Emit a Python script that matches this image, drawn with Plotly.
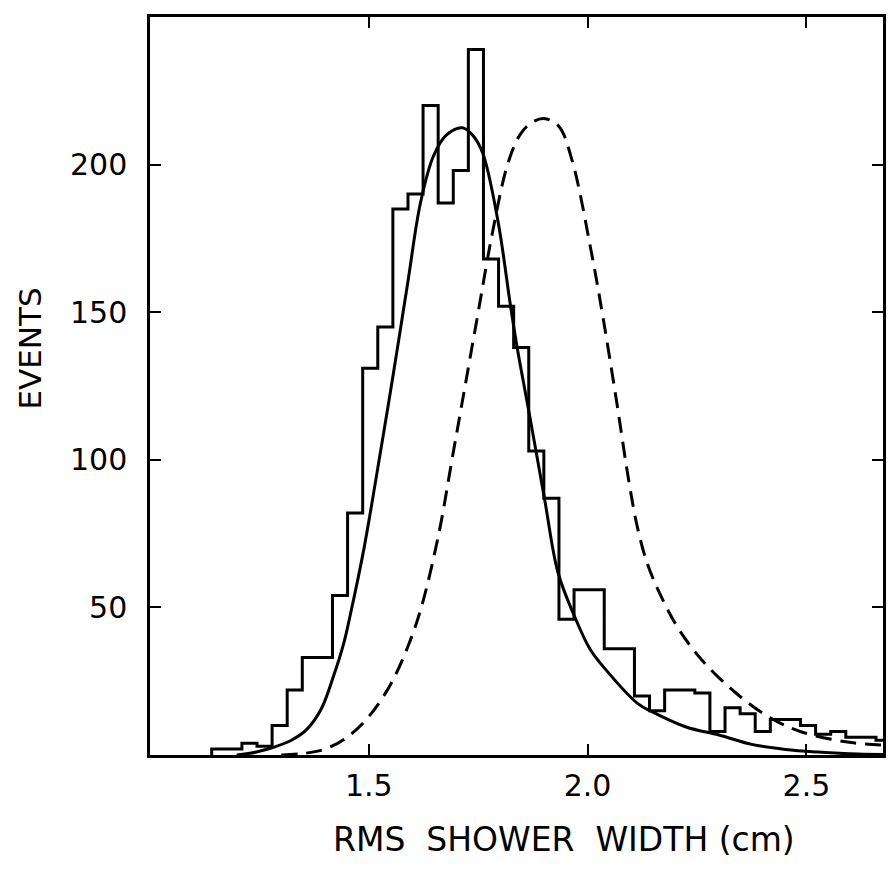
import plotly.graph_objects as go

# Histogram of measured RMS shower widths (uniform bins)
bin_start = 1.141
bin_width = 0.0345
counts = [2, 2, 4, 3, 10, 22, 33, 33, 54, 82, 131, 145, 185, 190, 220, 187,
          198, 239, 168, 152, 138, 103, 87, 46, 56, 56, 36, 36, 20, 15, 22,
          22, 21, 8, 16, 14, 8, 12, 12, 10, 7, 8, 6, 6, 5]

# Fitted curve for the data (solid)
fit_x = [1.198, 1.243, 1.284, 1.323, 1.357, 1.391, 1.420, 1.443, 1.457, 1.489,
         1.527, 1.557, 1.589, 1.618, 1.648, 1.677, 1.714, 1.737, 1.760, 1.795,
         1.823, 1.839, 1.868, 1.902, 1.932, 1.970, 2.005, 2.041, 2.114, 2.148,
         2.225, 2.300, 2.375, 2.452, 2.527, 2.618, 2.68]
fit_y = [0.0, 1.0, 2.7, 5.0, 8.5, 15.5, 27, 38, 47, 70,
         103, 130, 160, 187, 203, 210, 212.5, 210, 204, 181,
         153, 138, 114.6, 86.4, 62, 47, 36, 29, 17.5, 14.6,
         9.5, 6.8, 3.6, 1.9, 1.0, 0.3, 0.2]

# Reference curve (dashed)
ref_x = [1.30, 1.35, 1.400, 1.450, 1.500, 1.550, 1.590, 1.620, 1.660,
         1.690, 1.720, 1.750, 1.780, 1.817, 1.845, 1.870, 1.900, 1.934, 1.964,
         2.009, 2.036, 2.066, 2.095, 2.114, 2.136, 2.164, 2.205, 2.261, 2.339,
         2.414, 2.489, 2.602, 2.68]
ref_y = [0.0, 0.5, 2.0, 6.0, 13, 24, 37, 50, 75,
         100, 125, 150, 175, 200, 210, 214, 215.6, 213, 201.7,
         170, 147.5, 120, 92, 77, 65, 55, 43.4, 32.2, 21,
         12.9, 7.8, 4.2, 3.3]

edges = [bin_start + i * bin_width for i in range(len(counts) + 1)]
hist_x = [edges[0]] + edges
hist_y = [0] + counts + [counts[-1]]

ink = "#000000"
fig = go.Figure()
fig.add_trace(go.Scatter(x=hist_x, y=hist_y, mode="lines", line_shape="hv",
                         line=dict(color=ink, width=3), hoverinfo="skip"))
fig.add_trace(go.Scatter(x=fit_x, y=fit_y, mode="lines", line_shape="spline",
                         line=dict(color=ink, width=3), hoverinfo="skip"))
fig.add_trace(go.Scatter(x=ref_x, y=ref_y, mode="lines", line_shape="spline",
                         line=dict(color=ink, width=3, dash="16px,9px"),
                         hoverinfo="skip"))

font = dict(family="DejaVu Sans", size=30, color=ink)
fig.update_layout(
    width=888, height=870,
    margin=dict(l=150, r=2, t=17, b=115),
    paper_bgcolor="white", plot_bgcolor="white",
    showlegend=False,
    font=font,
    xaxis=dict(range=[1.0, 2.675], tickvals=[1.5, 2.0, 2.5],
               ticktext=["1.5", "2.0", "2.5"], ticks="inside", ticklen=11,
               tickwidth=2, tickcolor=ink, showline=True, linewidth=2.5,
               linecolor=ink, mirror="ticks", showgrid=False, zeroline=False,
               ticklabelstandoff=2, tickfont=font),
    yaxis=dict(range=[0, 250], tickvals=[50, 100, 150, 200],
               ticks="inside", ticklen=11, tickwidth=2, tickcolor=ink,
               showline=True, linewidth=2.5, linecolor=ink, mirror="ticks",
               showgrid=False, zeroline=False, ticklabelstandoff=14,
               tickfont=font),
    annotations=[
        dict(text="RMS\u00a0 SHOWER\u00a0 WIDTH (cm)", xref="paper", yref="paper",
             x=0.565, y=-0.115, xanchor="center", yanchor="middle",
             showarrow=False, font=dict(family="DejaVu Sans", size=33, color=ink)),
        dict(text="EVENTS", xref="paper", yref="paper", x=-0.163, y=0.55,
             xanchor="center", yanchor="middle", textangle=-90,
             showarrow=False, font=dict(family="DejaVu Sans", size=31, color=ink)),
    ],
)

fig.write_html("out.html")
